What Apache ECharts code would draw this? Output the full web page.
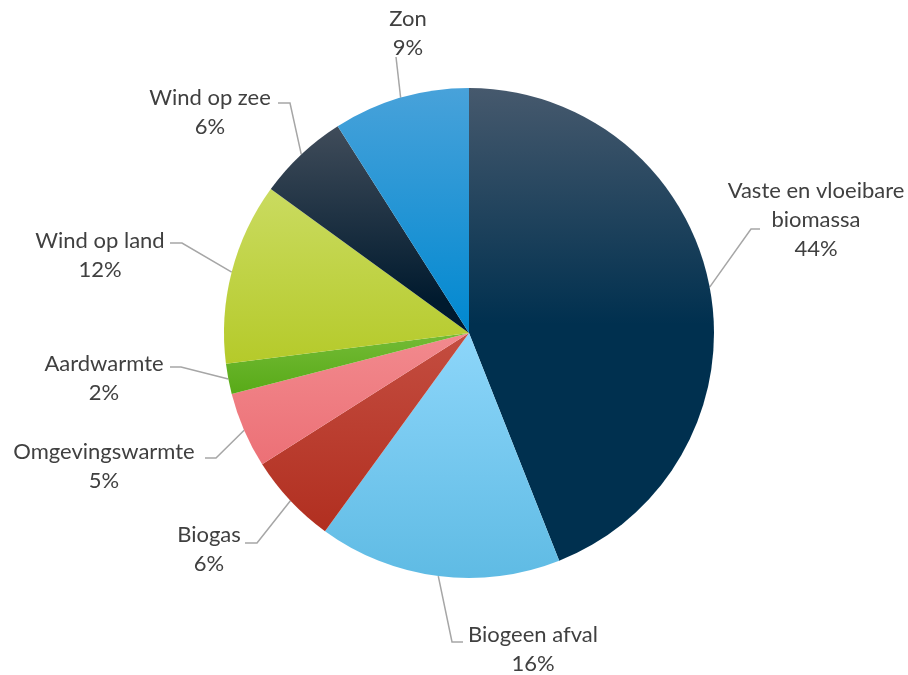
<!DOCTYPE html>
<html><head><meta charset="utf-8">
<script src="https://cdn.jsdelivr.net/npm/echarts@6/dist/echarts.min.js"></script>
<style>html,body{margin:0;padding:0;background:#fff}#c{width:908px;height:675px}</style>
</head><body><div id="c"></div>
<script>
// ---- data ----
const categories = ['Vaste en vloeibare biomassa', 'Biogeen afval', 'Biogas', 'Omgevingswarmte', 'Aardwarmte', 'Wind op land', 'Wind op zee', 'Zon'];
const values = [44, 16, 6, 5, 2, 12, 6, 9];

// ---- styles ----
const sliceGradients = [
  ['#46596d', '#00304f', 0.5],
  ['#8dd6fa', '#5fbbe4', 1],
  ['#c44d40', '#b12f20', 1],
  ['#f28a8e', '#ec7076', 1],
  ['#74bb36', '#58aa18', 1],
  ['#cadb60', '#b5ca2a', 1],
  ['#404c5a', '#001a2e', 0.85],
  ['#48a2da', '#0088d0', 1]
];
// label placement: [textCenterX, textCenterY, lineEndX, lineEndY, horizontal segment]
const labelPlacement = [
  [816, 220, 760, 229, 9],
  [533, 649, 463, 642, 11],
  [209, 549, 245, 543, -12],
  [104, 466, 205, 458, -11],
  [104, 378, 170, 367, -11],
  [100, 255, 170, 243, -12],
  [210, 112, 278, 103, -12],
  [408, 33, 396, 57, 0]
];

function wrapName(n) {
  if (n.length <= 20) return [n];
  const i = n.lastIndexOf(' ');
  return [n.slice(0, i), n.slice(i + 1)];
}

const chart = echarts.init(document.getElementById('c'), null, {renderer: 'canvas'});
const data = categories.map((name, i) => {
  const g = sliceGradients[i];
  return {
    name: name,
    value: values[i],
    itemStyle: {
      color: new echarts.graphic.LinearGradient(0, 0, 0, 1, [
        {offset: 0, color: g[0]},
        {offset: g[2], color: g[1]},
        {offset: 1, color: g[1]}
      ])
    }
  };
});

chart.setOption({
  backgroundColor: '#ffffff',
  animation: false,
  series: [{
    type: 'pie',
    center: [469, 333],
    radius: 245,
    startAngle: 90,
    clockwise: true,
    avoidLabelOverlap: false,
    data: data,
    itemStyle: {borderWidth: 0},
    label: {
      show: true,
      position: 'outside',
      color: '#404040',
      fontFamily: 'Lato',
      fontSize: 22,
      lineHeight: 29,
      formatter: function (p) {
        const lines = wrapName(p.name).concat([Math.round(p.percent) + '%']);
        return lines.map(l => '{a|' + l + '}').join('\n');
      },
      rich: {a: {align: 'center', color: '#404040', fontFamily: 'Lato', fontSize: 22, lineHeight: 29}}
    },
    labelLine: {show: true, lineStyle: {color: '#a6a6a6', width: 1.5}, smooth: false},
    labelLayout: function (params) {
      const lp = labelPlacement[params.dataIndex];
      const edge = params.labelLinePoints[0];
      return {
        x: lp[0], y: lp[1], align: 'center', verticalAlign: 'middle',
        labelLinePoints: [edge, [lp[2] - lp[4], lp[3]], [lp[2], lp[3]]]
      };
    }
  }]
});
</script></body></html>
